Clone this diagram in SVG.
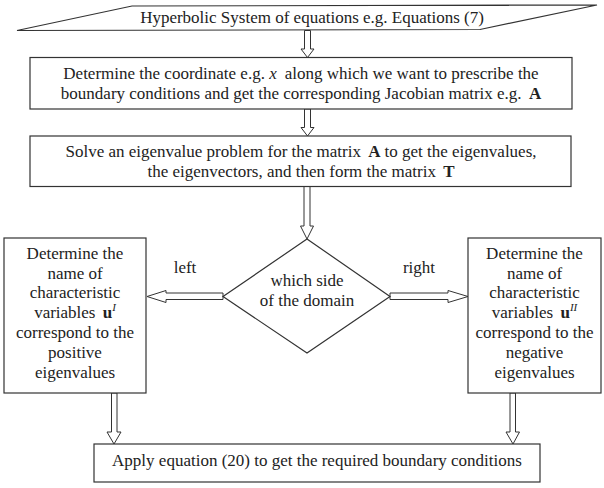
<svg xmlns="http://www.w3.org/2000/svg" width="604" height="488" viewBox="0 0 604 488">
  <style>
    .shape { fill: #ffffff; stroke: #333333; stroke-width: 1.2; }
    .arrow { fill: #ffffff; stroke: #333333; stroke-width: 1; stroke-linejoin: miter; }
    text { font-family: "Liberation Serif", "Times New Roman", serif; font-size: 17px; fill: #222222; text-anchor: middle; }
    .b { font-weight: bold; }
    .i { font-style: italic; }
    .sup { font-style: italic; font-size: 11px; }
  </style>
  <rect x="0" y="0" width="604" height="488" fill="#ffffff"/>

  <!-- connectors: hollow block arrows -->
  <g id="connectors">
    <polygon class="arrow" points="304.5,30.5 310.5,30.5 310.5,49 314,49 307.5,57.5 301,49 304.5,49"/>
    <polygon class="arrow" points="304.5,109 310.5,109 310.5,127.5 314,127.5 307.5,136 301,127.5 304.5,127.5"/>
    <polygon class="arrow" points="304,186.5 310,186.5 310,226 313.5,226 307,239 300.5,226 304,226"/>
    <polygon class="arrow" points="223,293 166,293 166,290.5 147,296.5 166,302.5 166,299.5 223,299.5"/>
    <polygon class="arrow" points="390,293 448,293 448,290.5 468,296.5 448,302.5 448,299.5 390,299.5"/>
    <polygon class="arrow" points="111.5,393 117,393 117,432 121,432 114,444 107,432 111.5,432"/>
    <polygon class="arrow" points="510,393 515.5,393 515.5,432 519.5,432 513,444 506,432 510,432"/>
  </g>

  <g id="system">
    <polygon class="shape" points="132,6 597,5 480,29.5 17,30.5"/>
    <text x="312" y="23">Hyperbolic System of equations e.g. Equations (7)</text>
  </g>

  <g id="coordinate">
    <rect class="shape" x="30" y="57.5" width="542" height="51.5"/>
    <text x="301" y="79">Determine the coordinate e.g. <tspan class="i">x</tspan><tspan dx="8">along which we want to prescribe the</tspan></text>
    <text x="301" y="99">boundary conditions and get the corresponding Jacobian matrix e.g. <tspan class="b" dx="3">A</tspan></text>
  </g>

  <g id="eigen">
    <rect class="shape" x="30" y="136" width="541" height="50.5"/>
    <text x="301" y="157">Solve an eigenvalue problem for the matrix <tspan class="b" dx="3">A</tspan><tspan dx="4">to get the eigenvalues,</tspan></text>
    <text x="301" y="177">the eigenvectors, and then form the matrix <tspan class="b" dx="3">T</tspan></text>
  </g>

  <g id="side">
    <polygon class="shape" points="307,239 390,296.5 307,353 223,296.5"/>
    <text x="307" y="286">which side</text>
    <text x="307" y="306">of the domain</text>
  </g>

  <g id="label-left">
    <text x="185" y="273">left</text>
  </g>
  <g id="label-right">
    <text x="419" y="273">right</text>
  </g>

  <g id="positive">
    <rect class="shape" x="4" y="238" width="142" height="155"/>
    <text x="75" y="259">Determine the</text>
    <text x="75" y="279">name of</text>
    <text x="75" y="298">characteristic</text>
    <text x="75" y="318">variables <tspan class="b" dx="3">u</tspan><tspan class="sup" dy="-7">I</tspan></text>
    <text x="75" y="338">correspond to the</text>
    <text x="75" y="358">positive</text>
    <text x="75" y="378">eigenvalues</text>
  </g>

  <g id="negative">
    <rect class="shape" x="468" y="238" width="133" height="155"/>
    <text x="534.5" y="259">Determine the</text>
    <text x="534.5" y="279">name of</text>
    <text x="534.5" y="298">characteristic</text>
    <text x="534.5" y="318">variables <tspan class="b" dx="3">u</tspan><tspan class="sup" dy="-7">II</tspan></text>
    <text x="534.5" y="338">correspond to the</text>
    <text x="534.5" y="358">negative</text>
    <text x="534.5" y="378">eigenvalues</text>
  </g>

  <g id="apply">
    <rect class="shape" x="94" y="444" width="446" height="38"/>
    <text x="317" y="466">Apply equation (20) to get the required boundary conditions</text>
  </g>
</svg>
